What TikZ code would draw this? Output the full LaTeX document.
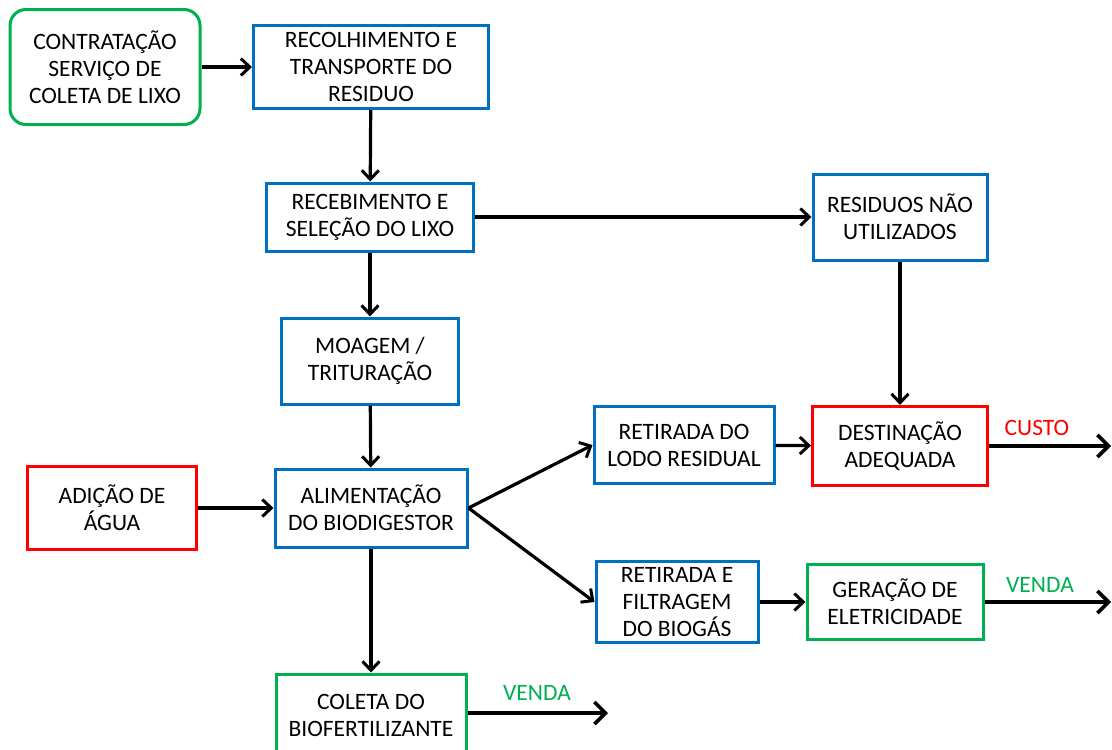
\documentclass[tikz,border=0pt]{standalone}
\usepackage{fontspec}
\setmainfont{Carlito}
\usetikzlibrary{arrows.meta}
\definecolor{verde}{RGB}{0,176,80}
\definecolor{azul}{RGB}{0,112,192}
\definecolor{vermelho}{RGB}{255,0,0}
\begin{document}
\begin{tikzpicture}[x=1pt,y=-1pt,
		etapa/.style={draw=azul,line width=3pt,fill=white,align=center,inner sep=0pt,font=\fontsize{23.5}{27}\selectfont},
		etapaverde/.style={etapa,draw=verde},
		etapavermelha/.style={etapa,draw=vermelho},
		seta/.style={line width=3.2pt,-{Straight Barb[length=9pt,width=17pt,line width=3pt]}},
		saida/.style={line width=3.8pt,-{Straight Barb[length=11pt,width=22pt,line width=3.6pt]}},
		rotulo/.style={font=\fontsize{23.5}{27}\selectfont}]
			\clip (0,0) rectangle (1112,750);
			\fill[white] (0,0) rectangle (1112,750);
			
			\node[etapaverde,rounded corners=16pt,minimum width=190pt,minimum height=115pt](contrato) at (105,67){CONTRATAÇÃO\\SERVIÇO DE\\COLETA DE LIXO};
			\node[etapa,minimum width=235pt,minimum height=83pt](recolhe) at (371,67){RECOLHIMENTO E\\TRANSPORTE DO\\RESIDUO};
			\node[etapa,minimum width=207pt,minimum height=68pt](recebe) at (370,217){RECEBIMENTO E\\SELEÇÃO DO LIXO};
			\node[etapa,minimum width=174pt,minimum height=86pt](naousado) at (900,217){RESIDUOS NÃO\\UTILIZADOS};
			\node[etapa,minimum width=177pt,minimum height=86pt](moagem) at (370,361){MOAGEM /\\TRITURAÇÃO};
			
			\node[etapavermelha,minimum width=175pt,minimum height=79pt](destino) at (900,446){DESTINAÇÃO\\ADEQUADA};
			\node[etapa,minimum width=180pt,minimum height=77pt](lodo) at (684,445){RETIRADA DO\\LODO RESIDUAL};
			\node[etapavermelha,minimum width=169pt,minimum height=83pt](agua) at (112,508){ADIÇÃO DE\\ÁGUA};
			\node[etapa,minimum width=192pt,minimum height=78pt](alimenta) at (371,508){ALIMENTAÇÃO\\DO BIODIGESTOR};
			\node[etapa,minimum width=162pt,minimum height=81pt](biogas) at (677,602){RETIRADA E\\FILTRAGEM\\DO BIOGÁS};
			\node[etapaverde,minimum width=176pt,minimum height=75pt](eletrica) at (895,602){GERAÇÃO DE\\ELETRICIDADE};
			\node[etapaverde,minimum width=190pt,minimum height=82pt](adubo) at (371,715){COLETA DO\\BIOFERTILIZANTE};
			
			\coordinate (fimcusto) at (1111,446);
			\coordinate (fimvenda) at (1111,602);
			\coordinate (fimadubo) at (608,713);
			\node[rotulo,text=vermelho](custo) at (1037,428){CUSTO};
			\node[rotulo,text=verde](vendaeletr) at (1040,585){VENDA};
			\node[rotulo,text=verde](vendaadubo) at (537,693){VENDA};
			
			\draw[seta](contrato)--(recolhe);
			\draw[seta](recolhe)--(recebe);
			\draw[seta](recebe)--(naousado);
			\draw[seta](recebe)--(moagem);
			\draw[seta](naousado)--(destino);
			\draw[seta](moagem)--(alimenta);
			\draw[seta](agua)--(alimenta);
			\draw[seta](alimenta.east)--(lodo.west);
			\draw[seta](alimenta.east)--(biogas.west);
			\draw[seta](lodo)--(destino);
			\draw[seta](biogas)--(eletrica);
			\draw[seta](alimenta)--(adubo);
			\draw[saida](destino.east)--(fimcusto);
			\draw[saida](eletrica.east)--(fimvenda);
			\draw[saida](adubo.east|-fimadubo)--(fimadubo);
		\end{tikzpicture}
\end{document}
